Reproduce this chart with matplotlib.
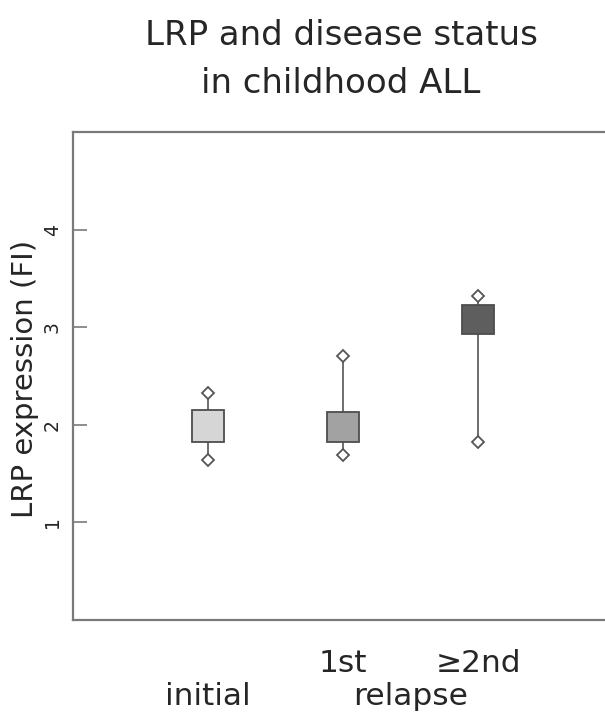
import numpy as np
import matplotlib
matplotlib.use('Agg')
import matplotlib.pyplot as plt

# LRP expression by disease status
groups = ['initial', '1st', '\u22652nd']
box_low = [1.82, 1.82, 2.93]
box_high = [2.15, 2.13, 3.23]
val_min = [1.64, 1.69, 1.82]
val_max = [2.33, 2.71, 3.32]
box_colors = ['#d6d6d6', '#a2a2a2', '#5e5e5e']
y_ticks = [1, 2, 3, 4]

plt.rcParams['font.family'] = ['DejaVu Sans']
text_color = '#262626'
line_color = '#6e6e6e'

pos = np.arange(1, len(groups) + 1)

fig = plt.figure(figsize=(6.05, 7.15), dpi=100)
ax = fig.add_axes([73/605, 95/715, 532/605, 488/715])

# whiskers: box edge to the extreme values
ax.vlines(pos, box_high, val_max, color=line_color, lw=1.4, zorder=1)
ax.vlines(pos, val_min, box_low, color=line_color, lw=1.4, zorder=1)

# boxes
heights = np.array(box_high) - np.array(box_low)
ax.bar(pos, heights, bottom=box_low, width=0.237, color=box_colors,
       edgecolor='#4d4d4d', linewidth=1.3, zorder=2)

# extreme values as open diamonds
ax.plot(pos, val_max, 'D', ms=6.2, mfc='white', mec='#555555', mew=1.3, zorder=3)
ax.plot(pos, val_min, 'D', ms=6.2, mfc='white', mec='#555555', mew=1.3, zorder=3)

ax.set_xlim(0, 532/135)
ax.set_ylim(0, 5)

ax.spines['right'].set_visible(False)
for s in ['left', 'bottom', 'top']:
    ax.spines[s].set_color('#7a7a7a')
    ax.spines[s].set_linewidth(1.6)

ax.set_xticks([])
ax.set_yticks(y_ticks)
ax.tick_params(axis='y', direction='in', length=10, width=1.2, color='#7a7a7a',
               pad=8, labelsize=13.5, labelcolor=text_color)
for lab in ax.get_yticklabels():
    lab.set_rotation(90)
    lab.set_va('center')

# category labels under the axis
xt = ax.get_xaxis_transform()
row1 = (620 - 672) / 488
row2 = (620 - 705) / 488
ax.text(pos[0], row2, groups[0], transform=xt, ha='center', va='baseline',
        fontsize=22.5, color=text_color)
ax.text(pos[1], row1, groups[1], transform=xt, ha='center', va='baseline',
        fontsize=22.5, color=text_color)
ax.text(pos[2], row1, groups[2], transform=xt, ha='center', va='baseline',
        fontsize=22.5, color=text_color)
ax.text((pos[1] + pos[2]) / 2, row2, 'relapse', transform=xt, ha='center',
        va='baseline', fontsize=22.5, color=text_color)

# y label and title
fig.text(25/605, 1 - 379/715, 'LRP expression (FI)', rotation=90, ha='center',
         va='center', fontsize=21, color=text_color)
fig.text(341/605, 1 - 45/715, 'LRP and disease status', ha='center', va='baseline',
         fontsize=24.5, color=text_color)
fig.text(341/605, 1 - 93/715, 'in childhood ALL', ha='center', va='baseline',
         fontsize=24.5, color=text_color)

fig.savefig('out.png', dpi=100)
